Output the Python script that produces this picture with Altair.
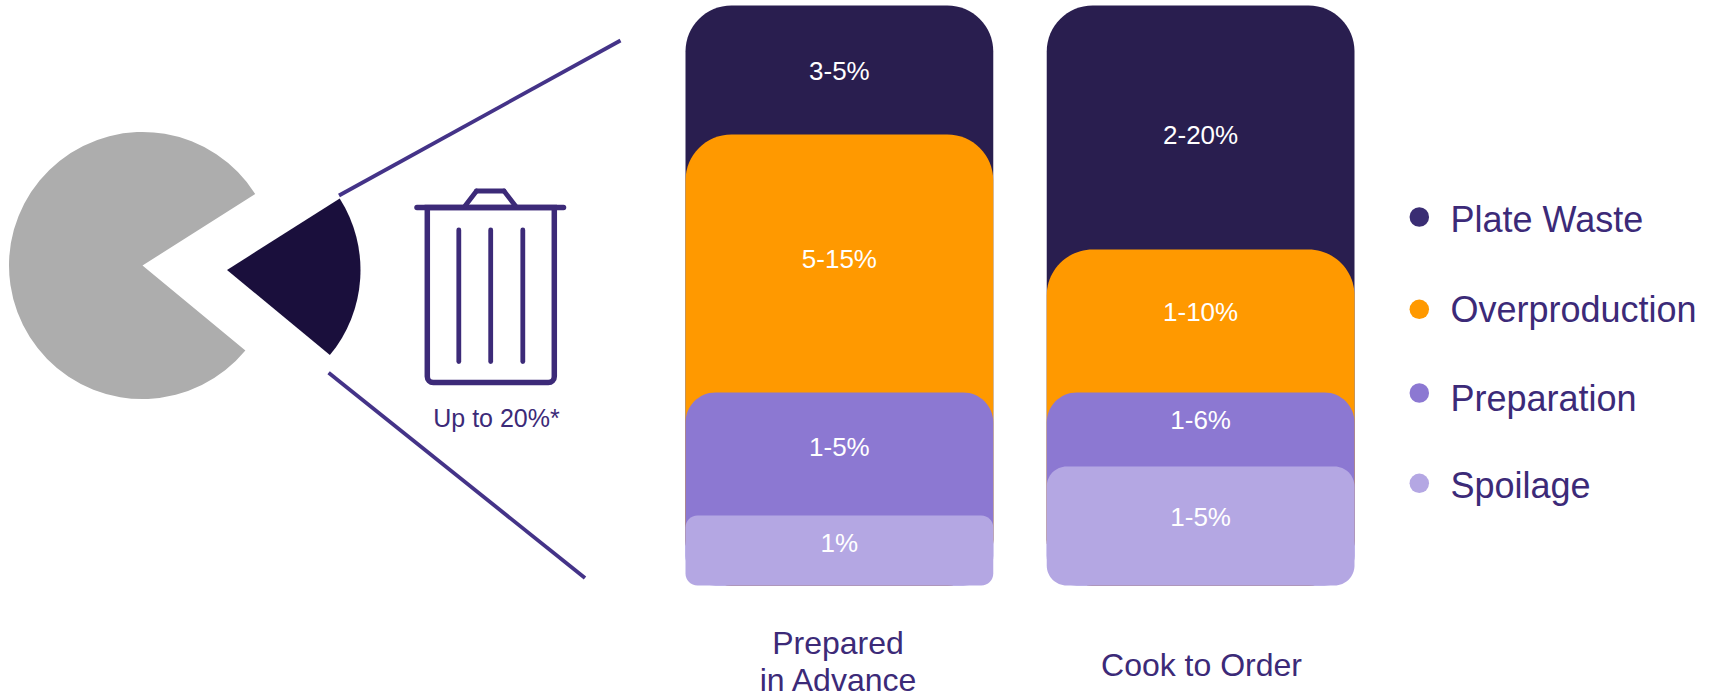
import math
import altair as alt
import pandas as pd

FONT = "Liberation Sans"
INK = "#3c2a78"
LINE = "#443388"

# Waste streams, drawn back to front
series = ["Plate Waste", "Overproduction", "Preparation", "Spoilage"]
series_colors = ["#291e4f", "#ff9900", "#8c78d2", "#b4a7e3"]
legend_dots = ["#3a2d73", "#ff9900", "#8c78d2", "#b4a7e3"]

columns = ["Prepared in Advance", "Cook to Order"]
range_labels = {
    "Prepared in Advance": ["3-5%", "5-15%", "1-5%", "1%"],
    "Cook to Order": ["2-20%", "1-10%", "1-6%", "1-5%"],
}
# Block heights on a schematic column scale (the blocks are not to scale with the ranges)
block_heights = {
    "Prepared in Advance": [129, 258, 123, 70],
    "Cook to Order": [244, 143, 74, 119],
}
# Height above the column base at which each range label sits
label_heights = {
    "Prepared in Advance": [514, 326, 138, 42],
    "Cook to Order": [450, 273, 165, 68],
}
corner_radii = {
    "Prepared in Advance": [46, 46, 30, 12],
    "Cook to Order": [46, 46, 30, 20],
}

# Share of food purchases: kept versus wasted
pie_shares = [80, 20]
pie_colors = ["#adadad", "#1a0f3c"]

COLUMN_TOTAL = 580
x_scale = alt.Scale(domain=columns, range=[685.5, 1354.5], paddingInner=0.148, paddingOuter=0)
y_scale = alt.Scale(domain=[0, COLUMN_TOTAL], range=[585.5, 5.5], nice=False, zero=False)
color_scale = alt.Scale(domain=series, range=series_colors)
start_angle = math.radians(57.6)
theta_scale = alt.Scale(domain=[0, 100], range=[start_angle, start_angle + 2 * math.pi])

layers = []

# Gray remainder of the pie and the pulled-out waste slice
pie_rows = pd.DataFrame({"start": [pie_shares[1], 0], "end": [100, pie_shares[1]]})
for row, color, cx, cy in zip(range(2), pie_colors, [142.5, 227], [265.5, 270]):
    layers.append(
        alt.Chart(pie_rows.iloc[[row]])
        .mark_arc(radius=133.5, color=color)
        .encode(
            theta=alt.Theta("start:Q", scale=theta_scale, stack=None),
            theta2="end:Q",
            x=alt.value(cx),
            y=alt.value(cy),
        )
    )


def segment(x1, y1, x2, y2, width, color=LINE, cap="butt"):
    """A straight stroke placed in chart pixels."""
    return alt.Chart(pd.DataFrame({"k": [0]})).mark_rule(
        color=color, strokeWidth=width, strokeCap=cap
    ).encode(x=alt.value(x1), x2=alt.value(x2), y=alt.value(y1), y2=alt.value(y2))


# Callout lines fanning from the slice to the columns
layers.append(segment(339, 195.5, 620.5, 40.5, 3.8))
layers.append(segment(328.6, 372.7, 585, 578, 3.8))

# Trash can icon
layers.append(
    alt.Chart(pd.DataFrame({"k": [0]}))
    .mark_rect(
        fillOpacity=0,
        stroke=INK,
        strokeWidth=5.5,
        cornerRadiusBottomLeft=6,
        cornerRadiusBottomRight=6,
    )
    .encode(x=alt.value(427.3), x2=alt.value(554.3), y=alt.value(207.5), y2=alt.value(382.5))
)
layers.append(segment(417, 207.5, 563.5, 207.5, 5.5, INK, "round"))
layers.append(segment(465, 206, 476.5, 191, 4.8, INK, "round"))
layers.append(segment(476.5, 191, 504, 191, 4.8, INK, "round"))
layers.append(segment(504, 191, 515.5, 206, 4.8, INK, "round"))
for lx in [458.8, 490.7, 522.8]:
    layers.append(segment(lx, 230, lx, 361.5, 4.8, INK, "round"))

caption = pd.DataFrame({"t": ["Up to 20%*"]})
layers.append(
    alt.Chart(caption)
    .mark_text(font=FONT, fontSize=25, color=INK, baseline="alphabetic", align="center")
    .encode(text="t:N", x=alt.value(496.5), y=alt.value(427))
)

# Overlapping rounded blocks: each one runs down to the base and the next covers it
for col in columns:
    remaining = COLUMN_TOTAL
    for name, height, radius in zip(series, block_heights[col], corner_radii[col]):
        block = pd.DataFrame(
            {"column": [col], "series": [name], "top": [remaining], "base": [0]}
        )
        layers.append(
            alt.Chart(block)
            .mark_bar(cornerRadius=radius)
            .encode(
                x=alt.X("column:N", scale=x_scale, axis=None, sort=columns),
                y=alt.Y("top:Q", scale=y_scale, axis=None),
                y2="base:Q",
                color=alt.Color("series:N", scale=color_scale, legend=None),
            )
        )
        remaining -= height

# Range labels inside the blocks
label_rows = pd.DataFrame(
    [
        {"column": col, "label": text, "at": at}
        for col in columns
        for text, at in zip(range_labels[col], label_heights[col])
    ]
)
layers.append(
    alt.Chart(label_rows)
    .mark_text(font=FONT, fontSize=26, color="white", align="center", baseline="middle")
    .encode(
        x=alt.X("column:N", scale=x_scale, axis=None, sort=columns),
        y=alt.Y("at:Q", scale=y_scale, axis=None),
        text="label:N",
    )
)

# Column names under the blocks
column_titles = [("Prepared", 838, 654), ("in Advance", 838, 690.5), ("Cook to Order", 1201.5, 675.5)]
for text, tx, ty in column_titles:
    layers.append(
        alt.Chart(pd.DataFrame({"t": [text]}))
        .mark_text(font=FONT, fontSize=32, color=INK, align="center", baseline="alphabetic")
        .encode(text="t:N", x=alt.value(tx), y=alt.value(ty))
    )

# Key on the right
dot_rows = [217, 309.3, 393, 483.3]
text_rows = [231.7, 322, 410.7, 498]
for name, dot, dy, ty in zip(series, legend_dots, dot_rows, text_rows):
    one = pd.DataFrame({"series": [name]})
    layers.append(
        alt.Chart(one)
        .mark_point(filled=True, size=380, opacity=1, color=dot, shape="circle")
        .encode(x=alt.value(1419.3), y=alt.value(dy))
    )
    layers.append(
        alt.Chart(one)
        .mark_text(font=FONT, fontSize=36, color=INK, align="left", baseline="alphabetic")
        .encode(text="series:N", x=alt.value(1450.5), y=alt.value(ty))
    )

chart = (
    alt.layer(*layers)
    .properties(
        width=1710,
        height=696,
        padding=0,
        autosize=alt.AutoSizeParams(type="none"),
        background="white",
    )
    .configure_view(stroke=None)
)

chart.save("out.html", embed_options={"renderer": "svg", "actions": False})
